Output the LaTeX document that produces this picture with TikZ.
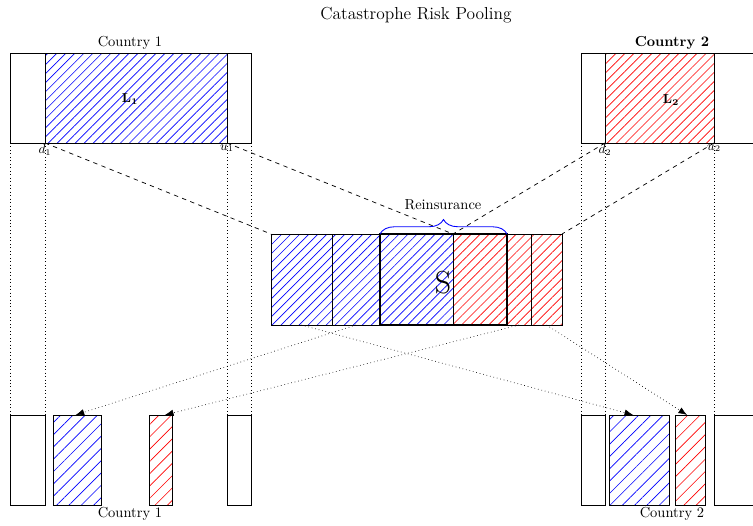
\documentclass[tikz,border=0pt]{standalone}
\usetikzlibrary{patterns.meta,fit,decorations.pathreplacing,arrows.meta}
\begin{document}
\begin{tikzpicture}[x=0.69pt,y=-0.69pt,
  box/.style={draw, inner sep=0pt, outer sep=0pt, line width=0.5pt},
  bluehatch/.style={pattern={Lines[angle=45,distance=4.4pt,line width=0.45pt]}, pattern color=blue},
  redhatch/.style={pattern={Lines[angle=45,distance=4.4pt,line width=0.45pt]}, pattern color=red},
  bluesparse/.style={pattern={Lines[angle=45,distance=6pt,line width=0.45pt]}, pattern color=blue},
  redsparse/.style={pattern={Lines[angle=45,distance=6pt,line width=0.45pt]}, pattern color=red},
  guide/.style={dotted, line width=0.4pt},
  flow/.style={dotted, line width=0.45pt, -{Latex[length=6pt,width=4.5pt]}},
  link/.style={dashed, line width=0.5pt},
  lbl/.style={font=\small, inner sep=1pt}
]
\useasboundingbox (0,0) rectangle (753,525);

% title
\node[font=\large] (title) at (416,15) {Catastrophe Risk Pooling};

% top country 1
\node[box, fit={(10,53)(251,143)}] (c1out) {};
\node[box, bluehatch, fit={(45,53)(227,143)}] (c1in) {};
\node[font=\small] (L1) at (130,99) {$\mathbf{L_1}$};
\node (t1) at (130,43) {Country 1};
\node[lbl, anchor=north] (d1) at (c1in.south west) {$d_1$};
\node[lbl, anchor=north] (u1) at (c1in.south east) {$u_1$};

% top country 2
\node[box, fit={(581,53)(763,143)}] (c2out) {};
\node[box, redhatch, fit={(605,53)(714,143)}] (c2in) {};
\node[font=\small] (L2) at (671,100) {$\mathbf{L_2}$};
\node[font=\bfseries] (t2) at (672,43) {Country 2};
\node[lbl, anchor=north] (d2) at (c2in.south west) {$d_2$};
\node[lbl, anchor=north] (u2) at (c2in.south east) {$u_2$};

% middle pool
\node[box, bluehatch, fit={(271,234)(332,325)}] (m1) {};
\node[box, bluehatch, fit={(332,234)(380,325)}] (m2) {};
\node[box, bluehatch, fit={(380,234)(453,325)}] (m3) {};
\node[box, redhatch, fit={(453,234)(507,325)}] (m4) {};
\node[box, redhatch, fit={(507,234)(531,325)}] (m5) {};
\node[box, redhatch, fit={(531,234)(562,325)}] (m6) {};
\node[draw, line width=1.2pt, inner sep=0pt, outer sep=0pt, fit={(380,234)(507,325)}] (S) {};
\node (Slbl) at (443,283) {\fontsize{22}{26}\selectfont S};
\draw[blue, line width=0.6pt, decorate, decoration={brace, amplitude=10pt}] (m3.north west) -- (m4.north east);
\node (re) at (443,205) {Reinsurance};

% dashed mapping lines
\draw[link] (c1in.south west) -- (m1.north west);
\draw[link] (c1in.south east) -- (m3.north east);
\draw[link] (c2in.south west) -- (m4.north west);
\draw[link] (c2in.south east) -- (m6.north east);

% bottom country 1
\node[box, fit={(10,415)(45,505)}] (b1a) {};
\node[box, bluesparse, fit={(53,415)(101,505)}] (b1b) {};
\node[box, redsparse, fit={(149,415)(172,505)}] (b1c) {};
\node[box, fit={(227,415)(251,505)}] (b1d) {};
\node (t3) at (130,514) {Country 1};

% bottom country 2
\node[box, fit={(581,415)(605,505)}] (b2a) {};
\node[box, bluesparse, fit={(609,415)(669,505)}] (b2b) {};
\node[box, redsparse, fit={(675,415)(705,505)}] (b2c) {};
\node[box, fit={(714,415)(763,505)}] (b2d) {};
\node (t4) at (672,514) {Country 2};

% dotted guides
\draw[guide] (c1out.south west) -- (b1a.north west);
\draw[guide] (c1in.south west) -- (b1a.north east);
\draw[guide] (c1in.south east) -- (b1d.north west);
\draw[guide] (c1out.south east) -- (b1d.north east);
\draw[guide] (c2out.south west) -- (b2a.north west);
\draw[guide] (c2in.south west) -- (b2a.north east);
\draw[guide] (c2in.south east) -- (b2d.north west);

% flows
\draw[flow] (m1.south) -- ([xshift=-4pt]b2b.north);
\draw[flow] (m2.south) -- ([xshift=-1pt]b1b.north);
\draw[flow] (m5.south) -- ([xshift=3pt]b1c.north);
\draw[flow] (m6.south) -- ([xshift=-2pt]b2c.north);
\end{tikzpicture}
\end{document}
